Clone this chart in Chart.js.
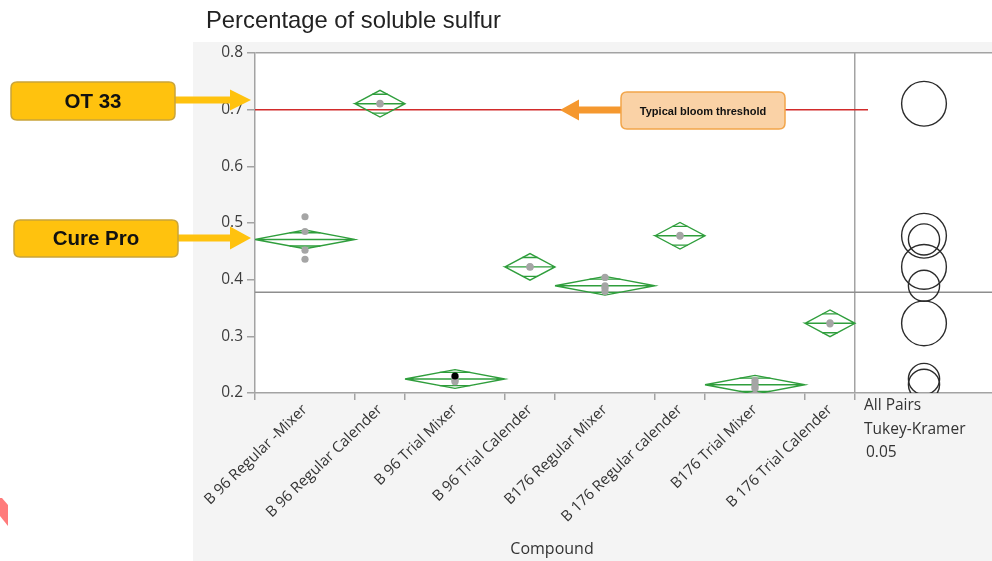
<!DOCTYPE html>
<html>
<head>
<meta charset="utf-8">
<script src="https://cdn.jsdelivr.net/npm/chart.js@4.4.1/dist/chart.umd.min.js"></script>
<style>
  html, body { margin: 0; padding: 0; background: #ffffff; }
  #wrap { width: 992px; height: 561px; position: relative; }
</style>
</head>
<body>
<div id="wrap"><canvas id="c" width="992" height="561"></canvas></div>
<script>
// ---- data ----
const compounds = [
  'B 96 Regular -Mixer',
  'B 96 Regular Calender',
  'B 96 Trial Mixer',
  'B 96 Trial Calender',
  'B176 Regular Mixer',
  'B 176 Regular calender',
  'B176 Trial Mixer',
  'B 176 Trial Calender'
];
const sampleSizes = [4, 2, 4, 2, 4, 2, 4, 2];
const observations = [
  [0.511, 0.485, 0.452, 0.436],
  [0.711, 0.710],
  [0.230, 0.227, 0.222, 0.220],
  [0.423, 0.422],
  [0.404, 0.389, 0.385, 0.379],
  [0.478, 0.477],
  [0.222, 0.217, 0.211, 0.208],
  [0.324, 0.322]
];
// 95% confidence half-widths of each group mean
const ciHalfWidths = [0.0165, 0.0235, 0.0165, 0.0235, 0.0165, 0.0235, 0.0165, 0.0235];
// Tukey-Kramer comparison circle radii (response units)
const circleRadii = [0.0275, 0.0395, 0.0275, 0.0395, 0.0275, 0.0395, 0.0275, 0.0395];
const yTicks = [0.2, 0.3, 0.4, 0.5, 0.6, 0.7, 0.8];
const bloomThreshold = 0.7;
const highlighted = { group: 2, row: 0 };

// ---- derived values ----
const means = observations.map(g => g.reduce((a, b) => a + b, 0) / g.length);
const allObs = observations.flat();
const grandMean = allObs.reduce((a, b) => a + b, 0) / allObs.length;

const bounds = [0];
sampleSizes.forEach(n => bounds.push(bounds[bounds.length - 1] + n));
const centers = sampleSizes.map((n, i) => (bounds[i] + bounds[i + 1]) / 2);
const panelSplit = bounds[bounds.length - 1];
const xMax = panelSplit + 5.48;      // room for the comparison-circle panel
const circleX = panelSplit + 2.76;
const thresholdEnd = panelSplit + 0.52;

const GREEN = '#2f9e3c';
const GRID = '#a3a3a3';
const CLEAR = 'rgba(0,0,0,0)';
const GAP = x => ({ x: x, y: null });

// means diamonds: outline + mean line, then overlap marks
const diamondData = [];
const overlapData = [];
const k = 1 - Math.SQRT1_2;
compounds.forEach((_, i) => {
  const l = bounds[i], r = bounds[i + 1], c = centers[i], m = means[i], h = ciHalfWidths[i];
  diamondData.push({ x: l, y: m }, { x: c, y: m + h }, { x: r, y: m }, { x: c, y: m - h },
                   { x: l, y: m }, { x: r, y: m }, GAP(r));
  const hw = (r - l) / 2 * k * 1.05;
  const off = h * Math.SQRT1_2;
  overlapData.push({ x: c - hw, y: m + off }, { x: c + hw, y: m + off }, GAP(c),
                   { x: c - hw, y: m - off }, { x: c + hw, y: m - off }, GAP(c));
});

// raw observations; the highlighted row goes last so it sits on top
const pointData = [];
const pointColors = [];
observations.forEach((g, i) => g.forEach((v, j) => {
  if (i === highlighted.group && j === highlighted.row) return;
  pointData.push({ x: centers[i], y: v });
  pointColors.push('#a5a5a5');
}));
pointData.push({ x: centers[highlighted.group], y: observations[highlighted.group][highlighted.row] });
pointColors.push('#000000');

const circleData = means.map((m, i) => ({ x: circleX, y: m, spread: circleRadii[i] }));

const labelAt = {};
centers.forEach((c, i) => { labelAt[c] = compounds[i]; });
const xTickValues = [...bounds, ...centers].sort((a, b) => a - b);
const isBoundary = v => bounds.includes(v);

// ---- decorations ----
function roundRect(ctx, x, y, w, h, r) {
  ctx.beginPath();
  ctx.moveTo(x + r, y);
  ctx.lineTo(x + w - r, y);
  ctx.quadraticCurveTo(x + w, y, x + w, y + r);
  ctx.lineTo(x + w, y + h - r);
  ctx.quadraticCurveTo(x + w, y + h, x + w - r, y + h);
  ctx.lineTo(x + r, y + h);
  ctx.quadraticCurveTo(x, y + h, x, y + h - r);
  ctx.lineTo(x, y + r);
  ctx.quadraticCurveTo(x, y, x + r, y);
  ctx.closePath();
}
function arrow(ctx, x0, x1, y, shaft, head, headLen, color) {
  const dir = Math.sign(x1 - x0);
  const hb = x1 - dir * headLen;
  ctx.beginPath();
  ctx.moveTo(x0, y - shaft / 2);
  ctx.lineTo(hb, y - shaft / 2);
  ctx.lineTo(hb, y - head / 2);
  ctx.lineTo(x1, y);
  ctx.lineTo(hb, y + head / 2);
  ctx.lineTo(hb, y + shaft / 2);
  ctx.lineTo(x0, y + shaft / 2);
  ctx.closePath();
  ctx.fillStyle = color;
  ctx.fill();
}
function callout(ctx, x, y, w, h, fill, stroke, text, font) {
  roundRect(ctx, x, y, w, h, 6);
  ctx.fillStyle = fill;
  ctx.fill();
  ctx.lineWidth = 1.5;
  ctx.strokeStyle = stroke;
  ctx.stroke();
  ctx.fillStyle = '#111111';
  ctx.font = font;
  ctx.textAlign = 'center';
  ctx.textBaseline = 'middle';
  ctx.fillText(text, x + w / 2, y + h / 2 + 1);
}

const backdrop = {
  id: 'backdrop',
  beforeDraw(chart) {
    const { ctx, chartArea: a } = chart;
    ctx.save();
    ctx.fillStyle = '#ffffff';
    ctx.fillRect(0, 0, chart.width, chart.height);
    ctx.fillStyle = '#f4f4f4';
    ctx.fillRect(193, 42, chart.width - 193, chart.height - 42);
    ctx.fillStyle = '#ffffff';
    ctx.fillRect(a.left, a.top, a.right - a.left, a.bottom - a.top);
    ctx.restore();
  },
  afterDraw(chart) {
    const { ctx } = chart;
    ctx.save();
    // title
    ctx.fillStyle = '#222222';
    ctx.font = '23.8px "Liberation Sans", Arial, sans-serif';
    ctx.textAlign = 'left';
    ctx.textBaseline = 'middle';
    ctx.fillText('Percentage of soluble sulfur', 206, 21);

    // product callouts
    arrow(ctx, 174, 251, 100, 7, 21, 21, '#ffc20e');
    callout(ctx, 11, 82, 164, 38, '#ffc20e', '#c9a43a', 'OT 33', 'bold 20.5px "Liberation Sans", Arial, sans-serif');
    arrow(ctx, 177, 251, 238, 7, 23, 21, '#ffc20e');
    callout(ctx, 14, 220, 164, 37, '#ffc20e', '#c9a43a', 'Cure Pro', 'bold 20.5px "Liberation Sans", Arial, sans-serif');

    // threshold callout
    arrow(ctx, 622, 560, 110, 7, 21, 19, '#f5982f');
    callout(ctx, 621, 92, 164, 37, '#fad2a6', '#f2a54a', 'Typical bloom threshold', 'bold 11px "Liberation Sans", Arial, sans-serif');

    // comparison method note
    ctx.fillStyle = '#333333';
    ctx.font = '15.5px "Open Sans", sans-serif';
    ctx.textAlign = 'left';
    ctx.textBaseline = 'middle';
    ctx.fillText('All Pairs', 864, 406);
    ctx.fillText('Tukey-Kramer', 864, 430);
    ctx.fillText('0.05', 866, 453);

    // axis title
    ctx.font = '16px "Open Sans", sans-serif';
    ctx.textAlign = 'center';
    ctx.fillText('Compound', 552, 549);

    // corner mark
    ctx.fillStyle = '#ff7b7b';
    ctx.beginPath();
    ctx.moveTo(0, 498); ctx.lineTo(2, 498); ctx.lineTo(8, 505);
    ctx.lineTo(8, 526); ctx.lineTo(0, 516); ctx.closePath();
    ctx.fill();
    ctx.restore();
  }
};

new Chart(document.getElementById('c'), {
  type: 'scatter',
  data: {
    datasets: [
      {
        label: 'observations', data: pointData, order: 0,
        pointRadius: 3.6, pointHoverRadius: 3.6, pointBorderWidth: 0,
        pointBackgroundColor: pointColors, pointBorderColor: pointColors, clip: 0
      },
      {
        label: 'diamonds', data: diamondData, order: 1, showLine: true, spanGaps: false,
        borderColor: GREEN, borderWidth: 1.4, pointRadius: 0, pointHoverRadius: 0, clip: 0
      },
      {
        label: 'overlap', data: overlapData, order: 1, showLine: true, spanGaps: false,
        borderColor: GREEN, borderWidth: 1.4, pointRadius: 0, pointHoverRadius: 0, clip: 0
      },
      {
        label: 'circles', data: circleData, order: 2,
        pointBackgroundColor: CLEAR, pointBorderColor: '#2b2b2b', pointBorderWidth: 1.4,
        pointRadius: ctx => {
          if (!ctx.raw) return 0;
          const ys = ctx.chart.scales.y;
          return Math.abs(ys.getPixelForValue(ctx.raw.y) - ys.getPixelForValue(ctx.raw.y + ctx.raw.spread));
        },
        pointHoverRadius: ctx => {
          if (!ctx.raw) return 0;
          const ys = ctx.chart.scales.y;
          return Math.abs(ys.getPixelForValue(ctx.raw.y) - ys.getPixelForValue(ctx.raw.y + ctx.raw.spread));
        },
        clip: 0
      },
      {
        label: 'grand mean', data: [{ x: 0, y: grandMean }, { x: xMax, y: grandMean }], order: 3,
        showLine: true, borderColor: '#8e8e8e', borderWidth: 1.5, pointRadius: 0, pointHoverRadius: 0, clip: 0
      },
      {
        label: 'threshold', data: [{ x: 0, y: bloomThreshold }, { x: thresholdEnd, y: bloomThreshold }], order: 4,
        showLine: true, borderColor: '#d22b2b', borderWidth: 1.5, pointRadius: 0, pointHoverRadius: 0, clip: 0
      }
    ]
  },
  options: {
    responsive: false,
    animation: false,
    events: [],
    layout: { autoPadding: false, padding: { left: 193, top: 53, right: 0, bottom: 0 } },
    plugins: { legend: { display: false }, tooltip: { enabled: false }, title: { display: false } },
    scales: {
      x: {
        type: 'linear', min: 0, max: xMax, offset: false,
        afterBuildTicks: s => { s.ticks = xTickValues.map(v => ({ value: v })); },
        afterFit: s => { s.height = 168; s.paddingLeft = 0; s.paddingRight = 0; },
        ticks: {
          autoSkip: false, minRotation: 44, maxRotation: 44, padding: 1,
          color: '#333333', font: { family: '"Open Sans", sans-serif', size: 15 },
          callback: v => labelAt[v] || ''
        },
        grid: {
          drawOnChartArea: true, tickLength: 7, lineWidth: 1.5,
          color: ctx => (ctx.tick && ctx.tick.value === panelSplit) ? GRID : CLEAR,
          tickColor: ctx => (ctx.tick && isBoundary(ctx.tick.value)) ? GRID : CLEAR
        },
        border: { color: GRID, width: 1.5 }
      },
      y: {
        type: 'linear', min: 0.2, max: 0.8,
        afterBuildTicks: s => { s.ticks = yTicks.map(v => ({ value: v })); },
        afterFit: s => { s.width = 62; s.paddingTop = 0; s.paddingBottom = 0; },
        ticks: {
          padding: 4, color: '#3c3c3c', font: { family: '"Open Sans", sans-serif', size: 15.5 },
          callback: v => v.toFixed(1)
        },
        grid: {
          drawOnChartArea: true, tickLength: 8, lineWidth: 1.5,
          color: ctx => (ctx.tick && ctx.tick.value === 0.8) ? GRID : CLEAR,
          tickColor: GRID
        },
        border: { color: GRID, width: 1.5 }
      }
    }
  },
  plugins: [backdrop]
});
</script>
</body>
</html>
